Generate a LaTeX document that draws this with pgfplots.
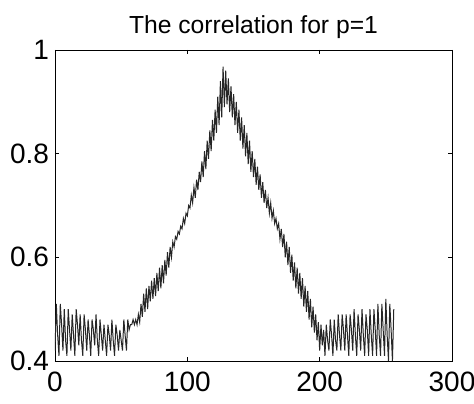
\documentclass[border=0pt]{standalone}
\usepackage{fontspec}
\setmainfont{Liberation Sans}
\usepackage{pgfplots}
\pgfplotsset{compat=1.18}
\begin{document}
\begin{tikzpicture}
\begin{axis}[
  scale only axis,
  width=297.75pt, height=233.25pt,
  xmin=0, xmax=300, ymin=0.4, ymax=1,
  xtick={0,100,200,300}, ytick={0.4,0.6,0.8,1},
  yticklabels={0.4,0.6,0.8,1},
  tick align=inside, tick pos=both,
  major tick length=3pt,
  /pgf/number format/assume math mode=true,
  ticklabel style={font=\fontsize{21}{23}\selectfont},
  xticklabel style={yshift=-5pt},
  yticklabel style={xshift=-1pt},
  title={The correlation for p=1},
  title style={font=\fontsize{18.5}{20}\selectfont, yshift=-1pt},
  axis line style={line width=0.6pt},
  every tick/.style={black, line width=0.5pt},
]
\addplot[black!85, line width=0.75pt] coordinates {
(0,0.42)(1,0.51)(2,0.45)(3,0.41)(4,0.51)(5,0.47)(6,0.42)(7,0.50)(8,0.44)(9,0.41)
(10,0.50)(11,0.46)(12,0.42)(13,0.49)(14,0.45)(15,0.41)(16,0.50)(17,0.47)(18,0.43)(19,0.49)
(20,0.44)(21,0.41)(22,0.49)(23,0.46)(24,0.42)(25,0.48)(26,0.45)(27,0.41)(28,0.48)(29,0.46)
(30,0.43)(31,0.49)(32,0.44)(33,0.41)(34,0.48)(35,0.45)(36,0.42)(37,0.47)(38,0.44)(39,0.41)
(40,0.47)(41,0.45)(42,0.42)(43,0.48)(44,0.44)(45,0.41)(46,0.47)(47,0.45)(48,0.42)(49,0.46)
(50,0.44)(51,0.42)(52,0.48)(53,0.45)(54,0.42)(55,0.48)(56,0.46)(57,0.47)(58,0.47)(59,0.48)
(60,0.47)(61,0.48)(62,0.47)(63,0.49)(64,0.475)(65,0.51)(66,0.485)(67,0.53)(68,0.495)(69,0.54)
(70,0.50)(71,0.545)(72,0.515)(73,0.555)(74,0.52)(75,0.56)(76,0.525)(77,0.57)(78,0.535)(79,0.58)
(80,0.54)(81,0.585)(82,0.55)(83,0.595)(84,0.565)(85,0.61)(86,0.58)(87,0.62)(88,0.60)(89,0.63)
(90,0.62)(91,0.64)(92,0.635)(93,0.65)(94,0.645)(95,0.66)(96,0.655)(97,0.675)(98,0.665)(99,0.685)
(100,0.68)(101,0.70)(102,0.695)(103,0.72)(104,0.705)(105,0.735)(106,0.715)(107,0.75)(108,0.73)(109,0.765)
(110,0.745)(111,0.785)(112,0.755)(113,0.805)(114,0.77)(115,0.825)(116,0.79)(117,0.845)(118,0.805)(119,0.865)
(120,0.825)(121,0.885)(122,0.84)(123,0.91)(124,0.855)(125,0.94)(126,0.87)(127,0.968)(128,0.89)(129,0.96)
(130,0.895)(131,0.945)(132,0.88)(133,0.93)(134,0.87)(135,0.915)(136,0.855)(137,0.90)(138,0.84)(139,0.885)
(140,0.825)(141,0.87)(142,0.81)(143,0.855)(144,0.795)(145,0.84)(146,0.78)(147,0.825)(148,0.765)(149,0.805)
(150,0.755)(151,0.79)(152,0.74)(153,0.775)(154,0.73)(155,0.76)(156,0.715)(157,0.745)(158,0.705)(159,0.73)
(160,0.695)(161,0.715)(162,0.685)(163,0.705)(164,0.675)(165,0.69)(166,0.665)(167,0.675)(168,0.655)(169,0.665)
(170,0.635)(171,0.655)(172,0.62)(173,0.645)(174,0.60)(175,0.63)(176,0.585)(177,0.62)(178,0.57)(179,0.605)
(180,0.555)(181,0.59)(182,0.54)(183,0.58)(184,0.53)(185,0.57)(186,0.52)(187,0.56)(188,0.505)(189,0.545)
(190,0.495)(191,0.535)(192,0.48)(193,0.52)(194,0.465)(195,0.505)(196,0.455)(197,0.49)(198,0.44)(199,0.475)
(200,0.42)(201,0.47)(202,0.43)(203,0.46)(204,0.41)(205,0.47)(206,0.44)(207,0.42)(208,0.48)(209,0.45)
(210,0.41)(211,0.48)(212,0.44)(213,0.42)(214,0.49)(215,0.45)(216,0.42)(217,0.49)(218,0.46)(219,0.42)
(220,0.49)(221,0.45)(222,0.41)(223,0.49)(224,0.46)(225,0.42)(226,0.50)(227,0.45)(228,0.41)(229,0.49)
(230,0.46)(231,0.42)(232,0.50)(233,0.45)(234,0.41)(235,0.49)(236,0.46)(237,0.41)(238,0.50)(239,0.45)
(240,0.41)(241,0.50)(242,0.46)(243,0.41)(244,0.51)(245,0.45)(246,0.41)(247,0.51)(248,0.46)(249,0.41)
(250,0.52)(251,0.45)(252,0.40)(253,0.51)(254,0.46)(255,0.40)(256,0.50)
};
\end{axis}
\pgfresetboundingbox
\path[use as bounding box] ([shift={(-41.25pt,-31.5pt)}]current axis.south west) rectangle ([shift={(16.5pt,37.5pt)}]current axis.north east);
\end{tikzpicture}
\end{document}
